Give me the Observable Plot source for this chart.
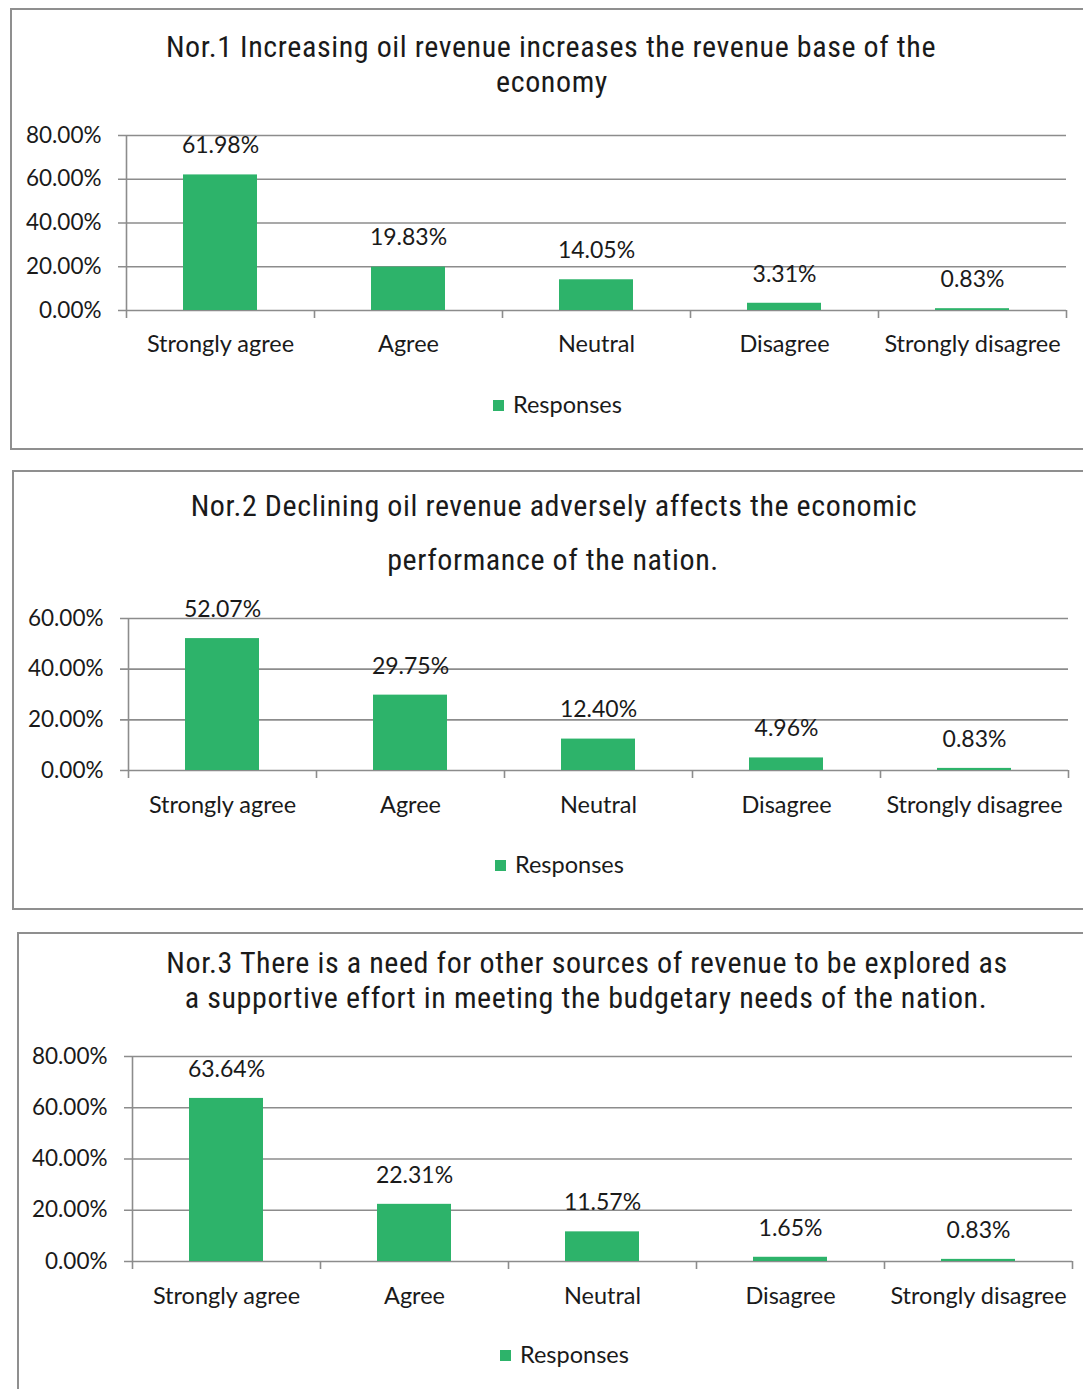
<!DOCTYPE html>
<html>
<head>
<meta charset="utf-8">
<script src="https://cdn.jsdelivr.net/npm/d3@7"></script>
<script src="https://cdn.jsdelivr.net/npm/@observablehq/plot@0.6"></script>
<style>
  html, body { margin: 0; padding: 0; background: #fff; }
  body { width: 1083px; height: 1389px; position: relative; overflow: hidden; }
  .box { position: absolute; border: 2px solid #8f8f8f; background: #fff; box-sizing: border-box; }
  .title { position: absolute; width: 1000px; text-align: center; white-space: nowrap;
           font-family: "Liberation Sans Narrow", "Arial Narrow", "Roboto Condensed", Roboto, sans-serif;
           font-size: 30px; letter-spacing: 0.6px; color: #1a1a1a; line-height: 1; }
  .legend { position: absolute; font-family: Lato, "Open Sans", sans-serif; font-size: 23.5px; color: #1a1a1a;
            line-height: 1; display: flex; align-items: center; white-space: nowrap; }
  .legend .sw { width: 11px; height: 11px; background: #2db36a; margin-right: 9px; }
  .chart { position: absolute; left: 0; }
  .chart svg { overflow: visible; }
</style>
</head>
<body>
<script>
// ---- data ----
const categories = ["Strongly agree", "Agree", "Neutral", "Disagree", "Strongly disagree"];
const nor1Values = [0.6198, 0.1983, 0.1405, 0.0331, 0.0083];
const nor2Values = [0.5207, 0.2975, 0.1240, 0.0496, 0.0083];
const nor3Values = [0.6364, 0.2231, 0.1157, 0.0165, 0.0083];
const nor1Ticks = [0, 0.2, 0.4, 0.6, 0.8];
const nor2Ticks = [0, 0.2, 0.4, 0.6];
const nor3Ticks = [0, 0.2, 0.4, 0.6, 0.8];
const nor1Title = ["Nor.1 Increasing oil revenue increases the revenue base of the", "economy"];
const nor2Title = ["Nor.2 Declining oil revenue adversely affects the economic", "performance of the nation."];
const nor3Title = ["Nor.3 There is a need for other sources of revenue to be explored as", "a supportive effort in meeting the budgetary needs of the nation."];
const seriesName = "Responses";

const GREEN = "#2db36a";
const GRID = "#8c8c8c";
const TEXT = "#1a1a1a";
const FONT = "Lato, 'Open Sans', sans-serif";

const pct = d => (d * 100).toFixed(2) + "%";

function addBox(left, top, bottom) {
  const b = document.createElement("div");
  b.className = "box";
  b.style.left = left + "px";
  b.style.top = top + "px";
  b.style.width = (1100 - left) + "px";
  b.style.height = (bottom - top) + "px";
  document.body.appendChild(b);
}
function addTitle(text, cx, cy) {
  const t = document.createElement("div");
  t.className = "title";
  t.textContent = text;
  t.style.left = (cx - 500) + "px";
  t.style.top = (cy - 15) + "px";
  document.body.appendChild(t);
}
function addLegend(x, cy) {
  const l = document.createElement("div");
  l.className = "legend";
  l.style.left = x + "px";
  l.style.top = (cy - 12) + "px";
  l.style.height = "24px";
  const sw = document.createElement("div"); sw.className = "sw";
  const tx = document.createElement("span"); tx.textContent = seriesName;
  l.appendChild(sw); l.appendChild(tx);
  document.body.appendChild(l);
}

function addChart(values, ticks, cfg) {
  const data = categories.map((c, i) => ({category: c, value: values[i]}));
  const ymax = ticks[ticks.length - 1];
  const plotW = 1083 - cfg.ml - cfg.mr;
  const step = plotW / categories.length;
  const chart = Plot.plot({
    width: 1083,
    height: cfg.height,
    marginLeft: cfg.ml,
    marginRight: cfg.mr,
    marginTop: cfg.mt,
    marginBottom: cfg.mb,
    style: {fontFamily: FONT, fontSize: "22px", color: TEXT, background: "transparent", overflow: "visible"},
    x: {domain: categories, paddingInner: 0.606, paddingOuter: 0.303, align: 0.5, label: null},
    y: {domain: [0, ymax], label: null},
    marks: [
      Plot.ruleY(ticks, {y: d => d, stroke: GRID, strokeWidth: 1.6, insetLeft: -8}),
      Plot.barY(data, {x: "category", y: "value", fill: GREEN}),
      // vertical value axis line
      Plot.ruleX([categories[0]], {x: d => d, y1: 0, y2: ymax, dx: -step / 2, stroke: GRID, strokeWidth: 1.6}),
      // category boundary ticks
      Plot.ruleX(categories, {x: d => d, y1: 0, y2: 0, insetBottom: -8, dx: -step / 2, stroke: GRID, strokeWidth: 1.6}),
      Plot.ruleX([categories[categories.length - 1]], {x: d => d, y1: 0, y2: 0, insetBottom: -8, dx: step / 2, stroke: GRID, strokeWidth: 1.6}),
      Plot.axisY({ticks, tickFormat: pct, tickSize: 0, tickPadding: 25, fontSize: 22.5, fill: TEXT}),
      Plot.axisX({tickSize: 0, tickPadding: cfg.labelPad, fontSize: 23.5, fill: TEXT}),
      Plot.text(data, {x: "category", y: "value", text: d => pct(d.value), dy: -29, fontSize: 23, fill: TEXT})
    ]
  });
  const wrap = document.createElement("div");
  wrap.className = "chart";
  wrap.style.top = cfg.top + "px";
  wrap.appendChild(chart);
  document.body.appendChild(wrap);
}

// Panel 1
addBox(10, 8, 450);
addTitle(nor1Title[0], 551, 47);
addTitle(nor1Title[1], 552, 82);
addChart(nor1Values, nor1Ticks, {top: 100, height: 260, ml: 126, mr: 17, mt: 35, mb: 50, labelPad: 25});
addLegend(493, 405);

// Panel 2
addBox(12, 470, 910);
addTitle(nor2Title[0], 554, 506);
addTitle(nor2Title[1], 553, 560);
addChart(nor2Values, nor2Ticks, {top: 580, height: 240, ml: 128, mr: 15, mt: 38, mb: 50, labelPad: 26});
addLegend(495, 865);

// Panel 3
addBox(17, 932, 1420);
addTitle(nor3Title[0], 587, 963);
addTitle(nor3Title[1], 586, 998);
addChart(nor3Values, nor3Ticks, {top: 1020, height: 301, ml: 132, mr: 11, mt: 36, mb: 60, labelPad: 26});
addLegend(500, 1355);
</script>
</body>
</html>
